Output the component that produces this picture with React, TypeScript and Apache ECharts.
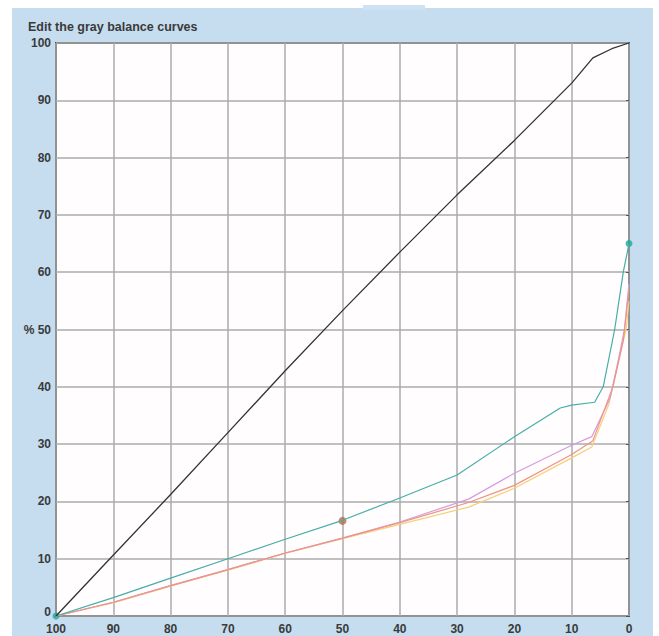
import React, { useEffect, useRef } from "react";
import * as echarts from "echarts";

const titleText = "Edit the gray balance curves";

const blackCurve: [number, number][] = [
  [100, 0], [90.6, 10], [80, 21.2], [70, 32], [60, 42.8], [50, 53.3], [40, 63.5],
  [30, 73.5], [20, 83], [10, 93], [6.3, 97.4], [3, 99], [0, 100],
];
const cyanCurve: [number, number][] = [
  [100, 0], [90, 3.2], [80, 6.6], [70, 10], [60, 13.4], [50, 16.7], [40, 20.6],
  [30, 24.6], [20, 31.3], [12, 36.3], [10, 36.8], [6, 37.3], [4.5, 40], [2.5, 50],
  [1, 60], [0, 65],
];
const magentaCurve: [number, number][] = [
  [100, 0], [90, 2.4], [80, 5.3], [70, 8.1], [60, 11], [50, 13.6], [40, 16.4],
  [28, 20.4], [20, 24.9], [10, 29.8], [6.5, 31.3], [3.3, 38], [2, 44], [0.8, 50], [0, 58],
];
const yellowCurve: [number, number][] = [
  [100, 0], [90, 2.3], [80, 5.2], [70, 8], [60, 10.9], [50, 13.5], [40, 16],
  [28, 19], [20, 22.3], [10, 27.6], [6.5, 29.5], [3.5, 37], [2, 44], [0.5, 50], [0, 55],
];
const redCurve: [number, number][] = [
  [100, 0], [90, 2.4], [80, 5.3], [70, 8.1], [60, 11], [50, 13.6], [40, 16.3],
  [28, 19.8], [20, 22.8], [10, 28.2], [6.3, 30.6], [2.8, 40], [1, 48], [0, 57],
];
const brownPoint: [number, number][] = [[50, 16.6]];
const cyanPoints: [number, number][] = [[0, 65], [100, 0]];

export default function App() {
  const ref = useRef<HTMLDivElement>(null);
  useEffect(() => {
    if (!ref.current) return;
    const chart = echarts.init(ref.current, null, { renderer: "svg" });
    const lineSeries = (data: [number, number][], color: string, width = 1.2) => ({
      type: "line",
      data,
      showSymbol: false,
      symbol: "none",
      lineStyle: { color, width },
      silent: true,
    });
    chart.setOption({
      animation: false,
      backgroundColor: "#ffffff",
      graphic: [
        { type: "rect", shape: { x: 12, y: 8, width: 641, height: 640 }, style: { fill: "#c6ddf0" }, z: -10 },
        { type: "rect", shape: { x: 363, y: 5, width: 62, height: 5 }, style: { fill: "#cfe2f4" }, z: -10 },
        {
          type: "text", left: 28, top: 20,
          style: { text: titleText, font: "bold 12.5px 'Liberation Sans', Arial, sans-serif", fill: "#3a3a3a" },
        },
      ],
      grid: {
        left: 56, top: 43, width: 573, height: 573, show: true,
        backgroundColor: "#fffdfd", borderColor: "#4a4a4a", borderWidth: 2,
      },
      xAxis: {
        type: "value", min: 0, max: 100, interval: 10, inverse: true,
        axisLine: { show: false },
        axisTick: { show: false },
        axisLabel: { color: "#3a3a3a", fontWeight: "bold", fontSize: 12, fontFamily: "Liberation Sans", margin: 7 },
        splitLine: { show: true, lineStyle: { color: "#ababab", width: 1.5 } },
      },
      yAxis: {
        type: "value", min: 0, max: 100, interval: 10,
        axisLine: { show: false },
        axisTick: { show: true, length: 3, lineStyle: { color: "#555" } },
        axisLabel: {
          color: "#3a3a3a", fontWeight: "bold", fontSize: 12, fontFamily: "Liberation Sans", margin: 5,
          formatter: (v: number) => (v === 50 ? "% 50" : v === 0 ? "{z|0}" : String(v)),
          rich: {
            z: { color: "#3a3a3a", fontWeight: "bold", fontSize: 12, fontFamily: "Liberation Sans", padding: [0, 0, 9, 0] },
          },
        },
        splitLine: { show: true, lineStyle: { color: "#ababab", width: 1.5 } },
      },
      series: [
        lineSeries(yellowCurve, "#f5d07a"),
        lineSeries(magentaCurve, "#d49ce0"),
        lineSeries(redCurve, "#ef9484"),
        lineSeries(cyanCurve, "#45aeaa"),
        lineSeries(blackCurve, "#333333", 1.3),
        {
          type: "scatter", data: brownPoint, symbolSize: 8,
          itemStyle: { color: "#b8694a" }, silent: true,
        },
        {
          type: "scatter", data: cyanPoints, symbolSize: 7,
          itemStyle: { color: "#1fa79b" }, silent: true,
        },
      ],
    });
    return () => chart.dispose();
  }, []);
  return (
    <div
      ref={ref}
      style={{ position: "fixed", left: 0, top: 0, width: 659, height: 636 }}
    />
  );
}
